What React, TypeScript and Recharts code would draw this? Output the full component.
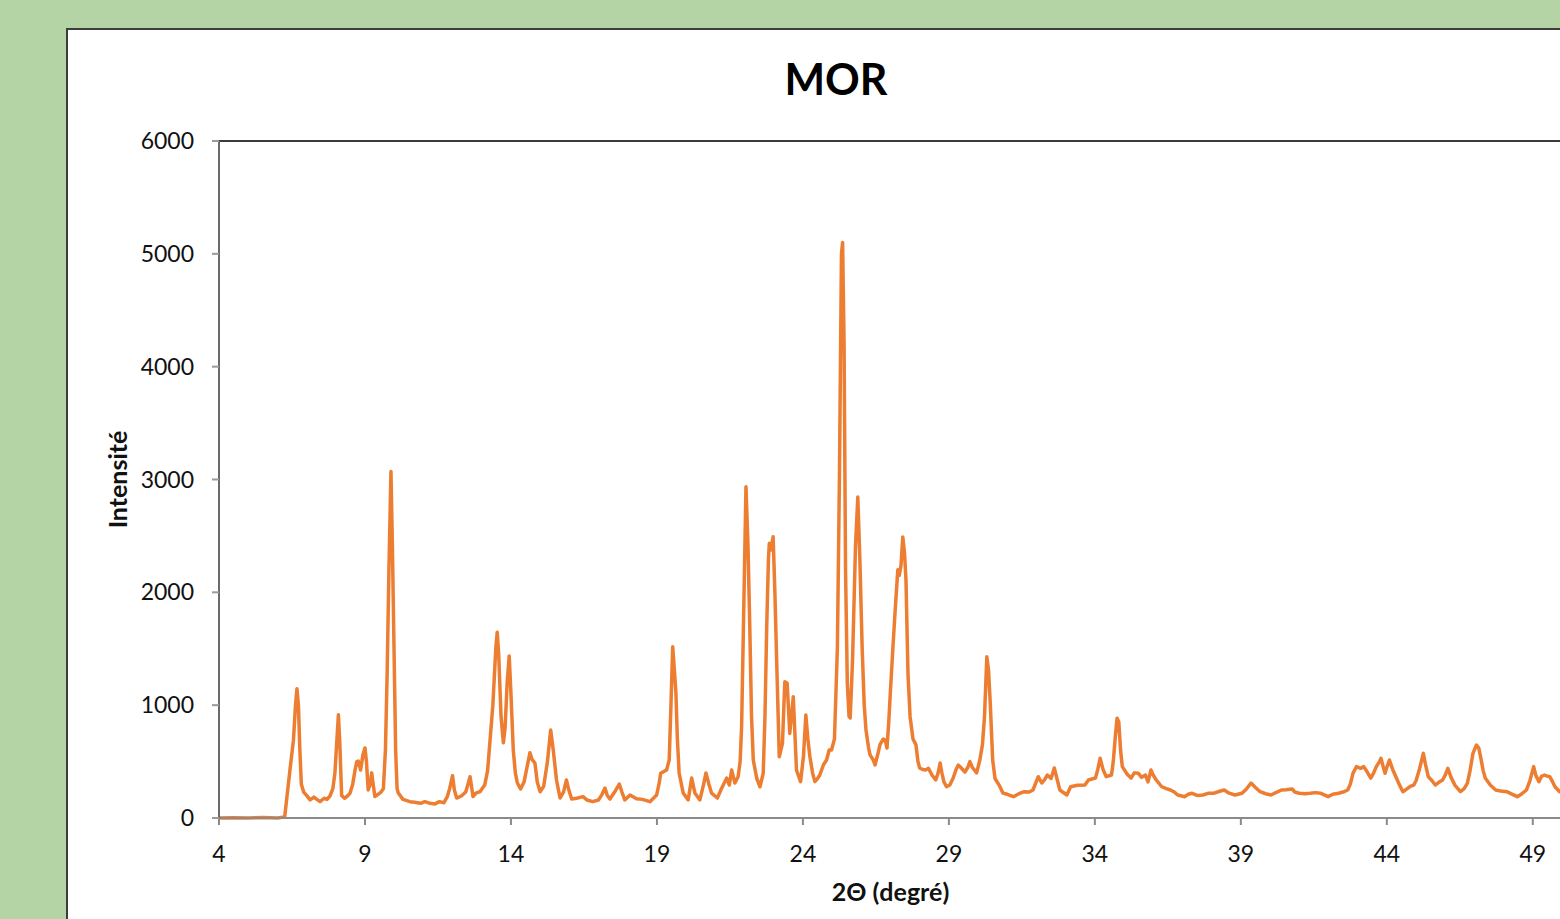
import React from 'react';
import { LineChart, Line, XAxis, YAxis, ReferenceLine } from 'recharts';

// 2θ positions (degrees)
const angles = [
  4.0, 4.5, 5.0, 5.5, 6.0, 6.25, 6.35, 6.43, 6.55, 6.62, 6.67, 6.72,
  6.77, 6.82, 6.9, 7.0, 7.12, 7.25, 7.35, 7.46, 7.6, 7.7, 7.8, 7.9,
  7.97, 8.04, 8.09, 8.14, 8.2, 8.3, 8.4, 8.49, 8.58, 8.66, 8.72, 8.77,
  8.85, 8.93, 9.0, 9.05, 9.11, 9.18, 9.23, 9.28, 9.34, 9.45, 9.55, 9.63,
  9.7, 9.76, 9.82, 9.89, 9.94, 9.99, 10.05, 10.1, 10.14, 10.3, 10.54, 10.7,
  10.9, 11.05, 11.23, 11.4, 11.55, 11.7, 11.82, 11.9, 12.0, 12.06, 12.14, 12.3,
  12.45, 12.55, 12.6, 12.66, 12.7, 12.8, 12.94, 13.1, 13.2, 13.28, 13.38, 13.48,
  13.53, 13.58, 13.66, 13.74, 13.8, 13.87, 13.94, 14.0, 14.08, 14.15, 14.22, 14.33,
  14.45, 14.55, 14.65, 14.72, 14.82, 14.9, 15.0, 15.12, 15.25, 15.36, 15.45, 15.56,
  15.68, 15.8, 15.9, 15.98, 16.08, 16.25, 16.47, 16.6, 16.8, 17.0, 17.12, 17.22,
  17.3, 17.39, 17.55, 17.71, 17.8, 17.9, 18.08, 18.3, 18.5, 18.76, 18.99, 19.07,
  19.13, 19.33, 19.42, 19.48, 19.54, 19.6, 19.65, 19.7, 19.76, 19.9, 20.07, 20.19,
  20.3, 20.47, 20.6, 20.68, 20.78, 20.87, 21.07, 21.22, 21.39, 21.48, 21.56, 21.67,
  21.78, 21.85, 21.9, 21.97, 22.05, 22.12, 22.18, 22.24, 22.3, 22.42, 22.53, 22.64,
  22.7, 22.76, 22.82, 22.85, 22.9, 22.98, 23.04, 23.1, 23.19, 23.3, 23.38, 23.46,
  23.55, 23.67, 23.78, 23.92, 24.02, 24.1, 24.17, 24.24, 24.33, 24.41, 24.5, 24.58,
  24.7, 24.81, 24.9, 24.98, 25.08, 25.18, 25.25, 25.32, 25.36, 25.41, 25.46, 25.52,
  25.58, 25.62, 25.7, 25.8, 25.88, 25.95, 26.03, 26.1, 26.16, 26.25, 26.3, 26.41,
  26.47, 26.56, 26.64, 26.75, 26.82, 26.88, 26.94, 27.0, 27.08, 27.15, 27.25, 27.3,
  27.36, 27.42, 27.48, 27.53, 27.6, 27.67, 27.77, 27.87, 27.94, 28.0, 28.1, 28.2,
  28.3, 28.42, 28.55, 28.63, 28.7, 28.76, 28.83, 28.92, 29.03, 29.14, 29.24, 29.32,
  29.4, 29.55, 29.65, 29.72, 29.8, 29.95, 30.06, 30.15, 30.22, 30.3, 30.36, 30.42,
  30.5, 30.58, 30.72, 30.85, 31.0, 31.21, 31.4, 31.58, 31.75, 31.88, 32.06, 32.18,
  32.28, 32.37, 32.5, 32.61, 32.7, 32.8, 33.04, 33.17, 33.4, 33.66, 33.78, 34.02,
  34.1, 34.18, 34.28, 34.39, 34.57, 34.63, 34.7, 34.76, 34.82, 34.88, 34.94, 35.1,
  35.24, 35.35, 35.49, 35.6, 35.73, 35.82, 35.92, 36.0, 36.1, 36.29, 36.45, 36.59,
  36.72, 36.84, 37.08, 37.2, 37.33, 37.5, 37.7, 37.9, 38.06, 38.25, 38.43, 38.6,
  38.8, 39.04, 39.2, 39.35, 39.5, 39.66, 39.85, 40.03, 40.2, 40.39, 40.55, 40.76,
  40.85, 41.0, 41.2, 41.37, 41.55, 41.74, 41.99, 42.15, 42.35, 42.5, 42.66, 42.75,
  42.84, 42.96, 43.1, 43.21, 43.3, 43.45, 43.55, 43.64, 43.75, 43.8, 43.88, 43.94,
  44.0, 44.09, 44.2, 44.31, 44.42, 44.55, 44.7, 44.8, 44.92, 45.0, 45.11, 45.2,
  45.25, 45.32, 45.42, 45.55, 45.66, 45.8, 45.91, 46.0, 46.09, 46.2, 46.33, 46.52,
  46.65, 46.76, 46.85, 46.95, 47.07, 47.15, 47.22, 47.3, 47.37, 47.55, 47.73, 47.9,
  48.11, 48.3, 48.47, 48.6, 48.78, 48.9, 49.03, 49.1, 49.21, 49.3, 49.4, 49.5,
  49.58, 49.68, 49.76, 49.92, 50.0,
];

// intensity at each angle
const counts = [
  0, 3, 0, 4, 0, 10, 240, 425, 690, 1000, 1145, 1000,
  600, 300, 230, 200, 160, 185, 165, 145, 175, 165, 195, 260,
  400, 700, 915, 650, 200, 175, 195, 221, 300, 425, 500, 505,
  425, 560, 620, 500, 248, 300, 400, 300, 190, 210, 230, 260,
  600, 1285, 2200, 3070, 2400, 1580, 600, 260, 221, 165, 145, 140,
  130, 145, 130, 125, 145, 135, 190, 260, 375, 250, 177, 195,
  230, 320, 366, 260, 190, 220, 233, 292, 420, 676, 1000, 1500,
  1646, 1450, 900, 667, 800, 1200, 1436, 1100, 600, 400, 310, 257,
  320, 450, 579, 520, 487, 320, 233, 280, 500, 780, 600, 337,
  177, 230, 337, 250, 168, 175, 189, 160, 145, 160, 210, 266,
  200, 168, 230, 301, 230, 160, 204, 170, 165, 145, 204, 300,
  396, 425, 514, 1000, 1518, 1300, 1108, 700, 399, 221, 160, 354,
  221, 160, 300, 399, 300, 221, 177, 266, 354, 292, 425, 310,
  366, 500, 809, 1800, 2936, 2400, 1695, 900, 514, 350, 277, 396,
  900, 1695, 2300, 2435, 2375, 2493, 2000, 1400, 543, 662, 1208, 1194,
  750, 1075, 425, 322, 550, 913, 700, 543, 400, 322, 350, 381,
  470, 514, 603, 603, 700, 1500, 3000, 5000, 5100, 4200, 2200, 1200,
  900, 886, 1400, 2400, 2845, 2300, 1500, 1000, 780, 620, 560, 514,
  470, 560, 650, 700, 691, 620, 850, 1135, 1500, 1800, 2200, 2150,
  2240, 2490, 2350, 2110, 1270, 900, 700, 650, 500, 443, 430, 425,
  440, 381, 337, 400, 487, 400, 320, 277, 292, 350, 425, 470,
  450, 408, 450, 500, 450, 400, 514, 650, 900, 1430, 1300, 1000,
  514, 350, 292, 221, 210, 189, 215, 233, 230, 248, 366, 310,
  340, 381, 350, 443, 350, 248, 204, 277, 290, 292, 337, 354,
  430, 529, 430, 366, 381, 500, 720, 884, 850, 600, 455, 390,
  354, 400, 396, 360, 381, 320, 425, 380, 337, 277, 260, 248,
  230, 204, 189, 210, 219, 200, 204, 220, 219, 235, 248, 220,
  204, 219, 260, 310, 270, 233, 215, 204, 225, 248, 250, 257,
  230, 219, 215, 219, 225, 219, 189, 210, 219, 230, 248, 300,
  396, 455, 440, 455, 420, 354, 400, 455, 500, 529, 450, 396,
  450, 514, 430, 366, 300, 233, 260, 280, 292, 330, 425, 520,
  573, 480, 366, 330, 292, 320, 337, 380, 440, 360, 292, 233,
  260, 310, 420, 573, 647, 620, 530, 420, 354, 290, 248, 240,
  233, 210, 189, 210, 248, 330, 455, 380, 322, 370, 381, 370,
  366, 320, 277, 233, 240,
];

const xTicks = [4, 9, 14, 19, 24, 29, 34, 39, 44, 49];
const yTicks = [0, 1000, 2000, 3000, 4000, 5000, 6000];

const data = angles.map((t, i) => ({ t, v: counts[i] }));

const FONT = 'Lato, "Noto Sans", sans-serif';

const YTitle = ({ viewBox }: any) => {
  const cy = viewBox.y + viewBox.height / 2;
  return (
    <text
      x={127}
      y={cy}
      transform={`rotate(-90 127 ${cy})`}
      textAnchor="middle"
      fontFamily={FONT}
      fontWeight={700}
      fontSize={25}
      fill="#111"
    >
      Intensité
    </text>
  );
};

const XTitle = ({ viewBox }: any) => {
  const cx = viewBox.x + viewBox.width / 2;
  return (
    <text x={cx} y={901} textAnchor="middle" fontFamily={FONT} fontWeight={700} fontSize={25} fill="#111">
      2Θ (degré)
    </text>
  );
};

export default function App() {
  return (
    <div
      style={{
        position: 'fixed',
        left: 0,
        top: 0,
        width: 1560,
        height: 919,
        overflow: 'hidden',
        background: '#b4d4a5',
        fontFamily: FONT,
      }}
    >
      <div
        style={{
          position: 'absolute',
          left: 66,
          top: 28,
          width: 1600,
          height: 1000,
          background: '#fff',
          border: '2px solid #3c3c3c',
        }}
      />
      <svg style={{ position: 'absolute', left: 0, top: 0 }} width={1560} height={120}>
        <text x={836} y={95} textAnchor="middle" fontFamily={FONT} fontWeight={700} fontSize={43} fill="#000">
          MOR
        </text>
      </svg>
      <div style={{ position: 'absolute', left: 0, top: 0 }}>
        <LineChart width={1600} height={919} data={data} margin={{ top: 141, right: 38, bottom: 41, left: 0 }}>
          <XAxis
            type="number"
            dataKey="t"
            domain={[4, 50]}
            ticks={xTicks}
            allowDataOverflow
            height={60}
            stroke="#8a8a8a"
            strokeWidth={2}
            tickSize={7}
            tickMargin={21}
            tick={{ fill: '#111', fontSize: 23, fontFamily: FONT }}
            label={<XTitle />}
          />
          <YAxis
            type="number"
            domain={[0, 6000]}
            ticks={yTicks}
            width={219}
            stroke="#6a6a6a"
            strokeWidth={2}
            tickLine={{ stroke: '#9a9a9a' }}
            tickSize={7}
            tickMargin={18}
            tick={{ fill: '#111', fontSize: 23, fontFamily: FONT }}
            label={<YTitle />}
          />
          <ReferenceLine y={6000} stroke="#3c3c3c" strokeWidth={2} />
          <Line
            type="linear"
            dataKey="v"
            stroke="#ED7D31"
            strokeWidth={3.5}
            strokeLinejoin="round"
            dot={false}
            isAnimationActive={false}
          />
        </LineChart>
      </div>
    </div>
  );
}
